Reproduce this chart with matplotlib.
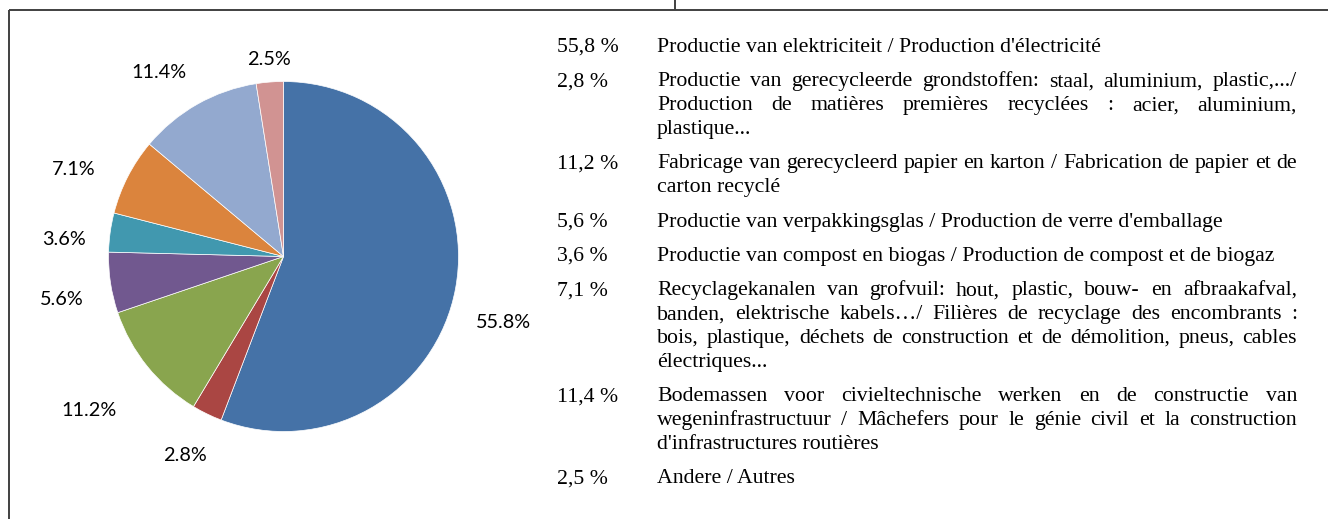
import matplotlib
matplotlib.use('Agg')
import matplotlib.pyplot as plt
import numpy as np

# ---------------- data ----------------
values = [55.8, 2.8, 11.2, 5.6, 3.6, 7.1, 11.4, 2.5]
colors = ['#4572A7', '#AA4643', '#89A54E', '#71588F', '#4198AF', '#DB843D', '#93A9CF', '#D19392']
pie_labels = [f"{v:.1f}%" for v in values]
list_pct = [f"{v:.1f} %".replace('.', ',') for v in values]
descriptions = [
    ["Productie van elektriciteit / Production d'électricité"],
    ["Productie van gerecycleerde grondstoffen: staal, aluminium, plastic,.../",
     "Production de matières premières recyclées : acier, aluminium,",
     "plastique..."],
    ["Fabricage van gerecycleerd papier en karton / Fabrication de papier et de",
     "carton recyclé"],
    ["Productie van verpakkingsglas / Production de verre d'emballage"],
    ["Productie van compost en biogas / Production de compost et de biogaz"],
    ["Recyclagekanalen van grofvuil: hout, plastic, bouw- en afbraakafval,",
     "banden, elektrische kabels…/ Filières de recyclage des encombrants :",
     "bois, plastique, déchets de construction et de démolition, pneus, cables",
     "électriques..."],
    ["Bodemassen voor civieltechnische werken en de constructie van",
     "wegeninfrastructuur / Mâchefers pour le génie civil et la construction",
     "d'infrastructures routières"],
    ["Andere / Autres"],
]

# ---------------- layout ----------------
W, H = 1328, 519
fig = plt.figure(figsize=(W / 100, H / 100), dpi=100)
fig.patch.set_facecolor('white')

# overlay axes in pixel coordinates
ax = fig.add_axes([0, 0, 1, 1])
ax.set_xlim(0, W)
ax.set_ylim(H, 0)
ax.axis('off')

frame_col = '#404040'
ax.plot([9, W], [10, 10], color=frame_col, lw=1.4, clip_on=False, solid_capstyle='butt')
ax.plot([9, 9], [10, H], color=frame_col, lw=1.4, clip_on=False, solid_capstyle='butt')
ax.plot([675, 675], [0, 10], color=frame_col, lw=1.4, clip_on=False, solid_capstyle='butt')

# pie axes
cx, cy, r = 283.5, 256.5, 175
pax = fig.add_axes([(cx - r) / W, 1 - (cy + r) / H, 2 * r / W, 2 * r / H])
wedges, _ = pax.pie(values, colors=colors, startangle=90, counterclock=False, radius=1,
                    wedgeprops=dict(edgecolor='white', linewidth=0.5))
pax.set_xlim(-1, 1)
pax.set_ylim(-1, 1)
pax.axis('off')

label_dist = [1.31, 1.27, 1.42, 1.29, 1.26, 1.30, 1.27, 1.13]
label_rot = [-6.2, -0.5, -0.5, 2.3, 3.6, 4.6, 4.6, -0.3]
for w, lab, k, dr in zip(wedges, pie_labels, label_dist, label_rot):
    ang = np.deg2rad((w.theta1 + w.theta2) / 2 + dr)
    pax.text(k * np.cos(ang), k * np.sin(ang), lab, ha='center', va='center',
             fontsize=14.3, family=['Lato', 'DejaVu Sans'], color='#000000')

# ---------------- right-hand list ----------------
renderer = fig.canvas.get_renderer()
serif = ['Liberation Serif', 'DejaVu Serif']

probe = ax.text(0, 0, descriptions[0][0], fontsize=10, family=serif)
pw = probe.get_window_extent(renderer).width
probe.remove()
fs = 10 * 443 / pw

x_pct, x0, x1 = 557, 657, 1297
y = 52.0
line_step, para_step = 23.9, 34.3

def width_of(s):
    t = ax.text(0, 0, s, fontsize=fs, family=serif)
    wd = t.get_window_extent(renderer).width
    t.remove()
    return wd

for pct, lines in zip(list_pct, descriptions):
    ax.text(x_pct, y, pct, fontsize=fs, family=serif, va='baseline', ha='left')
    for i, line in enumerate(lines):
        last = (i == len(lines) - 1)
        if last:
            ax.text(x0, y, line, fontsize=fs, family=serif, va='baseline', ha='left')
        else:
            words = line.split(' ')
            widths = [width_of(wd) for wd in words]
            gap = (x1 - x0 - sum(widths)) / (len(words) - 1)
            xx = x0
            for wd, ww in zip(words, widths):
                ax.text(xx, y, wd, fontsize=fs, family=serif, va='baseline', ha='left')
                xx += ww + gap
            y += line_step
    y += para_step

fig.savefig('out.png', dpi=100, facecolor='white')
